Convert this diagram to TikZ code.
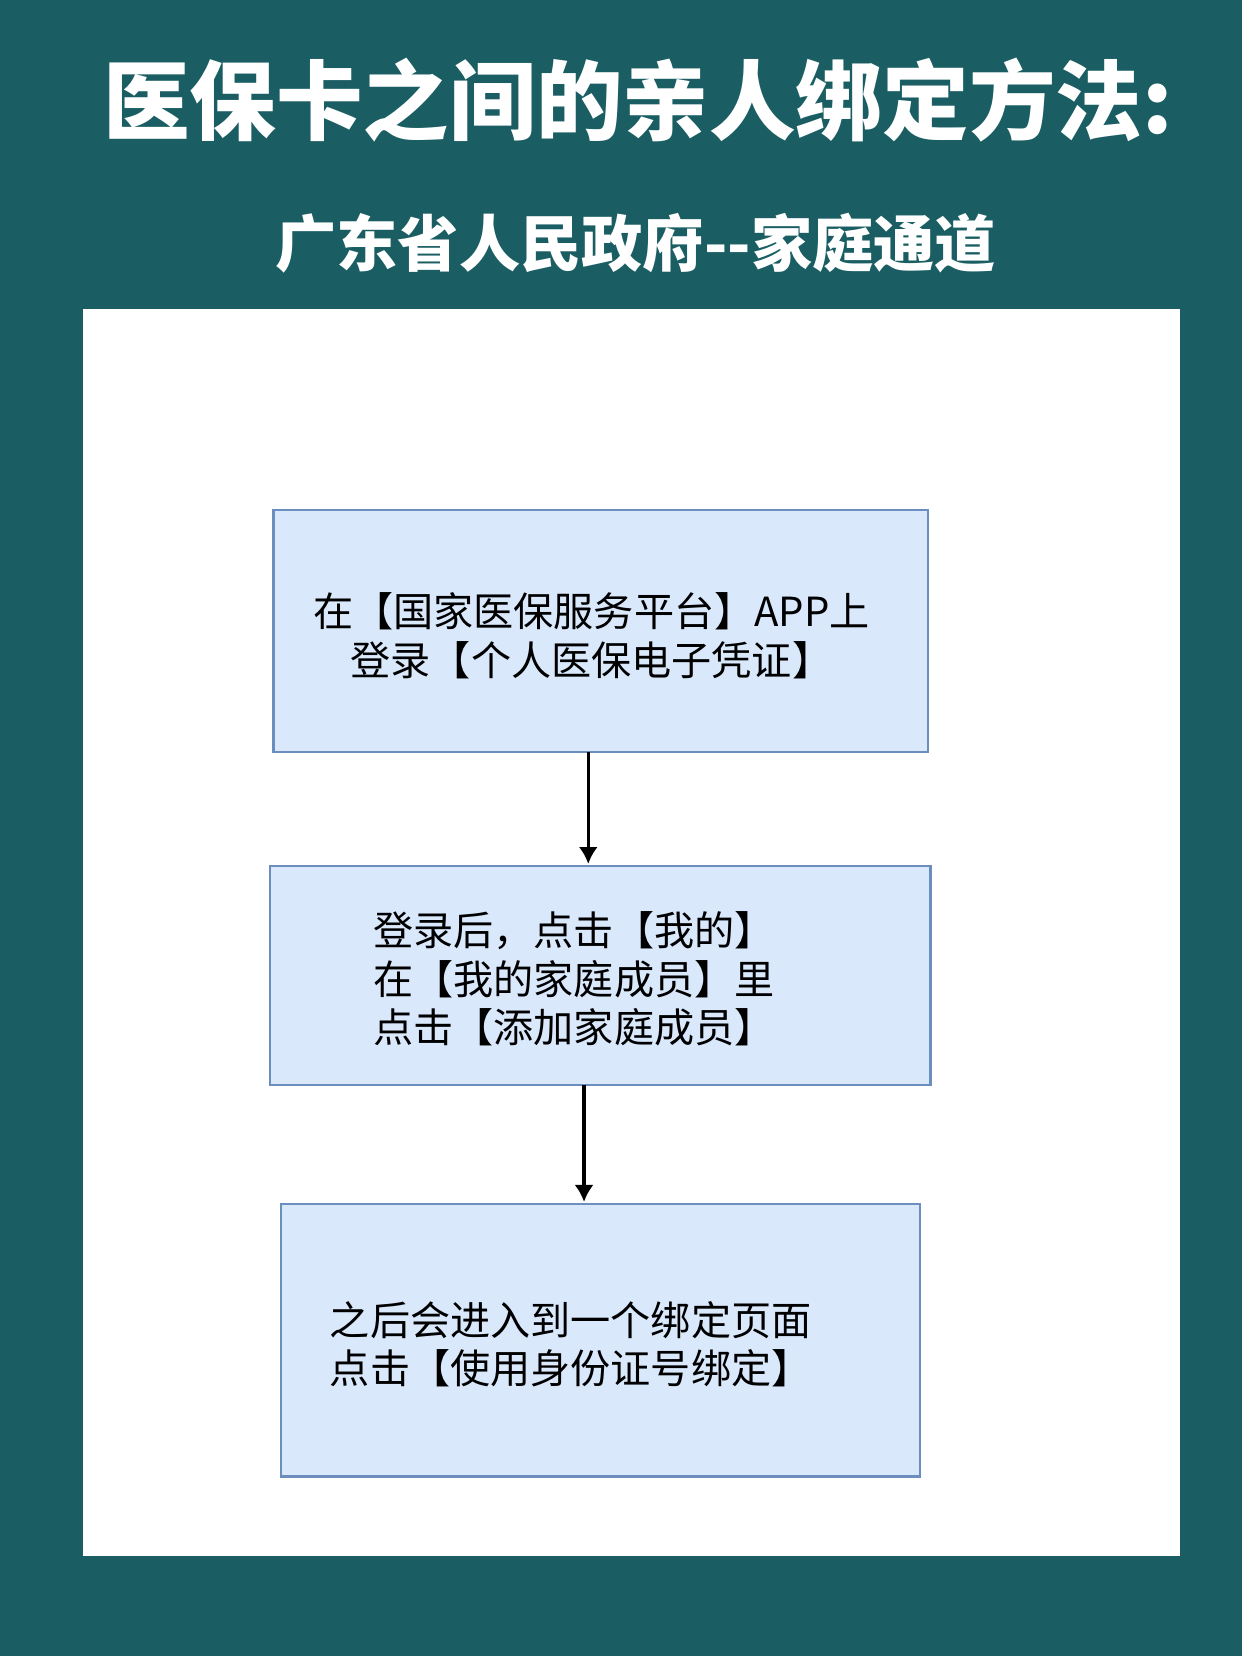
\documentclass[tikz,border=0pt]{standalone}
\usepackage{fontspec}
\newfontfamily\cjk{Noto Sans CJK SC}
\definecolor{bgteal}{HTML}{1A5E63}
\definecolor{boxfill}{HTML}{DAE8FC}
\definecolor{boxline}{HTML}{6C8EBF}
\begin{document}
\begin{tikzpicture}[x=0.5pt,y=-0.5pt,
  flowbox/.style={draw=boxline,fill=boxfill,line width=1pt},
  boxtext/.style={font=\cjk\fontsize{19}{23}\selectfont,align=left,inner sep=0pt},
  arr/.style={-{Latex[length=8pt,width=9pt]},line width=1.5pt,black}]
\usetikzlibrary{arrows.meta}
\fill[bgteal] (0,0) rectangle (1176,1568);
\useasboundingbox (0,0) rectangle (1176,1568);
\fill[white] (79,293) rectangle (1117,1473);
\node[font=\cjk\bfseries\fontsize{41}{48}\selectfont,text=white] (title) at (604,95) {医保卡之间的亲人绑定方法:};
\node[font=\cjk\bfseries\fontsize{29}{34}\selectfont,text=white] (sub) at (602,230) {广东省人民政府--家庭通道};
\draw[flowbox] (259,483) rectangle (879,712);
\draw[flowbox] (256,820) rectangle (881,1027);
\draw[flowbox] (266,1140) rectangle (871,1398);
\coordinate (b1) at (557,712);
\coordinate (b2t) at (557,818);
\coordinate (b2) at (553,1027);
\coordinate (b3t) at (553,1138);
\node[boxtext,align=center] (t1) at (560,602) {在【国家医保服务平台】APP上\\登录【个人医保电子凭证】};
\node[boxtext,anchor=west] (t2) at (353,927) {登录后，点击【我的】\\在【我的家庭成员】里\\点击【添加家庭成员】};
\node[boxtext,anchor=west] (t3) at (312,1273) {之后会进入到一个绑定页面\\点击【使用身份证号绑定】};
\draw[arr] (b1) -- (b2t);
\draw[arr] (b2) -- (b3t);
\end{tikzpicture}
\end{document}
